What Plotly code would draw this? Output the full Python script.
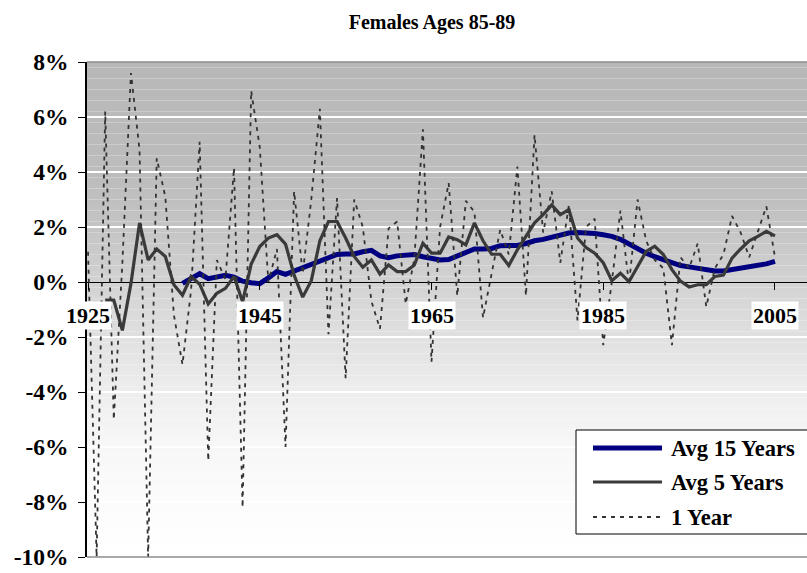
import numpy as np
import plotly.graph_objects as go

# ---- data -------------------------------------------------------------
one_year_years = list(range(1925, 2006))
one_year = [
    1.1, -10.0, 6.2, -5.0, 0.7, 7.6, 4.8, -10.0, 4.5, 3.1,      # 1925-1934
    -1.2, -3.0, -0.3, 5.1, -6.5, 0.8, 0.1, 4.15, -8.2, 6.95,    # 1935-1944
    4.9, 0.0, 1.2, -6.0, 3.3, 0.3, 3.0, 6.3, -1.9, 3.05,        # 1945-1954
    -3.5, 3.0, 2.0, -0.7, -1.7, 1.95, 2.2, -0.8, 0.85, 5.55,    # 1955-1964
    -2.9, 2.0, 3.6, -0.5, 2.95, 2.55, -1.3, 0.3, 1.9, 1.0,      # 1965-1974
    4.2, -0.5, 5.35, 1.8, 3.3, 0.7, 2.8, -1.4, 2.0, 2.3,        # 1975-1984
    -2.3, 0.0, 2.6, -0.1, 3.0, 1.5, 0.8, 0.5, -2.3, 0.9,        # 1985-1994
    0.5, 1.4, -0.9, 0.5, 1.0, 2.4, 1.8, 0.9, 1.8, 2.75,         # 1995-2004
    0.9,                                                         # 2005
]

avg5_years = list(range(1927, 2006))
avg5 = [
    -0.66, -0.66, -1.76, -0.05, 2.15, 0.8, 1.2, 0.93,           # 1927-1934
    -0.1, -0.48, 0.2, -0.08, -0.8, -0.41, -0.23, 0.2, -0.72, 0.65,  # 1935-1944
    1.29, 1.6, 1.72, 1.38, 0.25, -0.55, 0.05, 1.5, 2.2, 2.2,    # 1945-1954
    1.6, 0.93, 0.54, 0.8, 0.29, 0.62, 0.38, 0.38, 0.62, 1.41,   # 1955-1964
    1.05, 1.05, 1.64, 1.54, 1.35, 2.15, 1.5, 1.01, 1.01, 0.6,   # 1965-1974
    1.17, 1.66, 2.15, 2.45, 2.8, 2.45, 2.63, 1.6, 1.25, 1.05,   # 1975-1984
    0.7, 0.05, 0.32, 0.01, 0.56, 1.11, 1.3, 1.0, 0.45, 0.03,    # 1985-1994
    -0.18, -0.1, -0.1, 0.2, 0.25, 0.87, 1.2, 1.5, 1.66, 1.84,   # 1995-2004
    1.68,                                                        # 2005
]

avg15_years = list(range(1936, 2006))
avg15 = [
    -0.05, 0.1, 0.3, 0.12, 0.18, 0.24, 0.18, 0.03, -0.03,       # 1936-1944
    -0.06, 0.15, 0.38, 0.28, 0.4, 0.5, 0.65, 0.78, 0.9, 1.0,    # 1945-1954
    1.02, 1.02, 1.1, 1.15, 0.95, 0.88, 0.95, 0.98, 1.0, 0.92,   # 1955-1964
    0.85, 0.8, 0.82, 0.95, 1.05, 1.2, 1.2, 1.22, 1.32, 1.32,    # 1965-1974
    1.33, 1.4, 1.5, 1.55, 1.62, 1.72, 1.78, 1.8, 1.8, 1.76,     # 1975-1984
    1.72, 1.66, 1.55, 1.38, 1.2, 1.05, 0.92, 0.8, 0.68, 0.6,    # 1985-1994
    0.55, 0.5, 0.45, 0.4, 0.4, 0.45, 0.5, 0.53, 0.6, 0.66,      # 1995-2004
    0.75,                                                        # 2005
]

x_label_years = [1925, 1945, 1965, 1985, 2005]
x_label_text = ["1925", "1945", "1965", "1985", "2005"]
y_tick_vals = [8, 6, 4, 2, 0, -2, -4, -6, -8, -10]
y_tick_text = ["8%", "6%", "4%", "2%", "0%", "-2%", "-4%", "-6%", "-8%", "-10%"]

series_names = ["Avg 15 Years", "Avg 5 Years", "1 Year"]

# ---- layout constants -------------------------------------------------
W, H = 807, 573
ML, MR, MT, MB = 87, 0, 62, 16
PW, PH = W - ML - MR, H - MT - MB
Y_MIN, Y_MAX = -10, 8
X_RANGE = [1924.88, 2008.73]
SERIF = "Liberation Serif"

NAVY = "#000080"
DARK = "#3a3a3a"
DOT = "#333333"


def px_x(px):
    return (px - ML) / PW


def px_y(py):
    return (H - MB - py) / PH


def bold_font(size):
    return dict(family=SERIF, size=size, color="black", weight="bold")


fig = go.Figure()

fig.add_trace(go.Scatter(
    x=avg15_years, y=avg15, mode="lines", name=series_names[0],
    line=dict(color=NAVY, width=5), showlegend=False,
))
fig.add_trace(go.Scatter(
    x=avg5_years, y=avg5, mode="lines", name=series_names[1],
    line=dict(color=DARK, width=3.2), showlegend=False,
))
fig.add_trace(go.Scatter(
    x=one_year_years, y=one_year, mode="lines", name=series_names[2],
    line=dict(color=DOT, width=1.8, dash="4px,5px"), showlegend=False,
))

shapes = []

# vertical grey-to-white gradient behind the plot area
grad_y = [-10, -8, -6, -4, -2, 0, 2, 4, 8]
grad_g = [255, 252, 247, 238, 224, 210, 196, 188, 184]
edges = np.linspace(Y_MIN, Y_MAX, 91)
for lo, hi in zip(edges[:-1], edges[1:]):
    g = int(round(np.interp((lo + hi) / 2, grad_y, grad_g)))
    shapes.append(dict(
        type="rect", xref="paper", yref="y", x0=0, x1=1, y0=lo, y1=hi,
        fillcolor=f"rgb({g},{g},{g})", line=dict(width=0), layer="below",
    ))

# plot-area frame (grey top/bottom)
for yy in (0, 1):
    shapes.append(dict(
        type="line", xref="paper", yref="paper", x0=0, x1=1, y0=yy, y1=yy,
        line=dict(color="#8c8c8c", width=1.5), layer="above",
    ))

# legend box
lg_left, lg_top, lg_bottom = 576, 430, 534
shapes.append(dict(
    type="rect", xref="paper", yref="paper",
    x0=px_x(lg_left), x1=px_x(W + 5), y0=px_y(lg_bottom), y1=px_y(lg_top),
    fillcolor="white", line=dict(color="black", width=1), layer="above",
))
legend_rows = [448, 482, 517]
legend_styles = [
    dict(color=NAVY, width=5),
    dict(color=DARK, width=3.2),
    dict(color=DOT, width=1.8, dash="4px,5px"),
]
annotations = []
for name, row, style in zip(series_names, legend_rows, legend_styles):
    shapes.append(dict(
        type="line", xref="paper", yref="paper",
        x0=px_x(593), x1=px_x(662), y0=px_y(row), y1=px_y(row),
        line=style, layer="above",
    ))
    annotations.append(dict(
        xref="paper", yref="paper", x=px_x(669), y=px_y(row),
        xanchor="left", yanchor="middle", text=name,
        showarrow=False, font=bold_font(22.5),
    ))

# category labels sitting just under the zero line
for yr, txt in zip(x_label_years, x_label_text):
    annotations.append(dict(
        xref="x", yref="y", x=yr, y=0, yshift=-33,
        xanchor="center", yanchor="middle", text=txt,
        showarrow=False, bgcolor="white", borderpad=1,
        font=bold_font(22),
    ))

fig.update_layout(
    width=W, height=H,
    margin=dict(l=ML, r=MR, t=MT, b=MB, pad=0),
    paper_bgcolor="white", plot_bgcolor="white",
    title=dict(
        text="Females Ages 85-89", x=432 / W, xref="container",
        xanchor="center", y=1 - 22 / H, yref="container", yanchor="middle",
        font=bold_font(20),
    ),
    shapes=shapes,
    annotations=annotations,
    showlegend=False,
    xaxis=dict(
        range=X_RANGE, anchor="free",
        position=(0 - Y_MIN) / (Y_MAX - Y_MIN),
        tickvals=x_label_years, showticklabels=False,
        ticks="outside", ticklen=7, tickcolor="black", tickwidth=1,
        showgrid=False, zeroline=False, showline=False,
    ),
    yaxis=dict(
        range=[Y_MIN, Y_MAX], tickvals=y_tick_vals, ticktext=y_tick_text,
        ticks="outside", ticklen=7, tickcolor="black", tickwidth=1,
        showline=True, linecolor="black", linewidth=1.5,
        showgrid=True, gridcolor="white", gridwidth=2,
        zeroline=True, zerolinecolor="black", zerolinewidth=1,
        ticklabelstandoff=5,
        tickfont=bold_font(23.5),
    ),
)

fig.write_html("out.html")
